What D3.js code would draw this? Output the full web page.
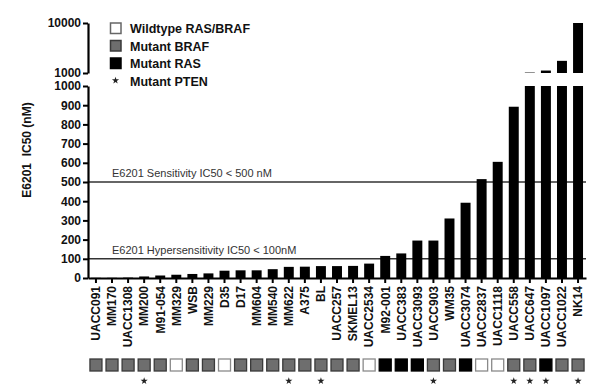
<!DOCTYPE html>
<html><head><meta charset="utf-8">
<script src="https://cdn.jsdelivr.net/npm/d3@7"></script>
<style>body{margin:0;background:#fff}svg{display:block}text{font-family:"Liberation Sans",Arial,sans-serif}</style>
</head><body>
<svg id="c" width="600" height="388"></svg>
<script>
const cells = ["UACC091","MM170","UACC1308","MM200","M91-054","MM329","WSB","MM229","D35","D17","MM604","MM540","MM622","A375","BL","UACC257","SKMEL13","UACC2534","M92-001","UACC383","UACC3093","UACC903","WM35","UACC3074","UACC2837","UACC1118","UACC558","UACC647","UACC1097","UACC1022","NK14"];
const ic50 = [1,1,2,8,13,17,21,24,38,40,40,46,58,59,62,62,63,75,115,128,195,195,310,392,515,605,892,1020,1120,1750,10000];
// mutation: W = wildtype RAS/BRAF, B = mutant BRAF, R = mutant RAS
const mutation = ["B","B","B","B","B","W","B","B","W","B","B","B","B","B","B","B","B","W","R","R","R","B","B","R","W","W","B","B","R","B","B"];
const pten = [0,0,0,1,0,0,0,0,0,0,0,0,1,0,1,0,0,0,0,0,0,1,0,0,0,0,1,1,1,0,1];
const lowTicks = [0,100,200,300,400,500,600,700,800,900,1000];
const highTicks = [1000,10000];
const refLines = [{v:500,label:"E6201 Sensitivity IC50 < 500 nM"},{v:100,label:"E6201 Hypersensitivity IC50 < 100nM"}];
const legendItems = [{k:"W",label:"Wildtype RAS/BRAF"},{k:"B",label:"Mutant BRAF"},{k:"R",label:"Mutant RAS"},{k:"P",label:"Mutant PTEN"}];

const fillOf = {W:"#ffffff",B:"#6e6e6e",R:"#000000"};
const strokeOf = {W:"#8a8a8a",B:"#3a3a3a",R:"#000000"};

const svg = d3.select("#c");
const x = d3.scaleBand().domain(cells).range([88,586]).paddingInner(0.38).paddingOuter(0.185);
const yLow = d3.scaleLinear().domain([0,1000]).range([278,86]);
const yHigh = d3.scaleLog().domain([1000,10000]).range([73,23]);

// reference lines
const rl = svg.append("g");
refLines.forEach(r=>{
  rl.append("line").attr("x1",88).attr("x2",586).attr("y1",yLow(r.v)).attr("y2",yLow(r.v))
    .attr("stroke","#333").attr("stroke-width",1.6);
  rl.append("text").attr("x",112).attr("y",yLow(r.v)-5).attr("font-size",11).attr("fill","#333").text(r.label);
});

// bars
const data = cells.map((c,i)=>({c,v:ic50[i],m:mutation[i],p:pten[i]}));
svg.append("g").selectAll("rect").data(data).join("rect")
  .attr("x",d=>x(d.c)).attr("width",x.bandwidth())
  .attr("y",d=>yLow(Math.min(d.v,1000))).attr("height",d=>yLow(0)-yLow(Math.min(d.v,1000)))
  .attr("fill","#000");
svg.append("g").selectAll("rect").data(data.filter(d=>d.v>1000)).join("rect")
  .attr("x",d=>x(d.c)).attr("width",x.bandwidth())
  .attr("y",d=>yHigh(d.v)).attr("height",d=>yHigh(1000)-yHigh(d.v))
  .attr("fill","#000");

// axes
function styleAxis(g){
  g.selectAll(".domain").attr("stroke","#000").attr("stroke-width",2.2);
  g.selectAll(".tick line").attr("stroke","#000").attr("stroke-width",2);
  g.selectAll(".tick text").attr("font-size",12).attr("font-weight","bold").attr("fill","#111")
    .attr("font-family","'Liberation Sans',Arial,sans-serif");
}
svg.append("g").attr("transform","translate(88,0)")
  .call(d3.axisLeft(yLow).tickValues(lowTicks).tickSize(5).tickSizeOuter(0).tickPadding(2).tickFormat(d3.format("d")))
  .call(styleAxis);
svg.append("g").attr("transform","translate(88,0)")
  .call(d3.axisLeft(yHigh).tickValues(highTicks).tickSize(5).tickSizeOuter(0).tickPadding(2).tickFormat(d3.format("d")))
  .call(styleAxis);

const xa = svg.append("g").attr("transform","translate(0,278)")
  .call(d3.axisBottom(x).tickSize(5).tickSizeOuter(0))
  .call(styleAxis);
xa.selectAll(".tick text").attr("transform","rotate(-90)").attr("text-anchor","end")
  .attr("x",-8).attr("y",0).attr("dy","0.36em");

// axis title
svg.append("text").attr("transform","translate(31,150) rotate(-90)").attr("text-anchor","middle")
  .attr("font-size",12).attr("font-weight","bold").attr("fill","#111").attr("xml:space","preserve").text("E6201  IC50 (nM)");

// mutation boxes
const bs = 12;
svg.append("g").selectAll("rect").data(data).join("rect")
  .attr("x",d=>x(d.c)+x.bandwidth()/2-bs/2).attr("y",359).attr("width",bs).attr("height",bs)
  .attr("fill",d=>fillOf[d.m]).attr("stroke",d=>strokeOf[d.m]).attr("stroke-width",1.3);
const star = d3.symbol().type(d3.symbolStar).size(16);
svg.append("g").selectAll("path").data(data.filter(d=>d.p)).join("path")
  .attr("transform",d=>`translate(${x(d.c)+x.bandwidth()/2},381)`).attr("d",star).attr("fill","#222");

// legend
const lg = svg.append("g").attr("transform","translate(110,23)");
legendItems.forEach((it,i)=>{
  const yy = i*17.5;
  if(it.k==="P"){
    lg.append("path").attr("transform",`translate(5.5,${yy+5})`).attr("d",star).attr("fill","#222");
  } else {
    lg.append("rect").attr("x",0.5).attr("y",yy).attr("width",10.5).attr("height",10.5)
      .attr("fill",fillOf[it.k]).attr("stroke",it.k==="W"?"#666":strokeOf[it.k]).attr("stroke-width",1.5);
  }
  lg.append("text").attr("x",20).attr("y",yy+10).attr("font-size",12.5).attr("font-weight","bold")
    .attr("fill","#111").text(it.label);
});
</script>
</body></html>
